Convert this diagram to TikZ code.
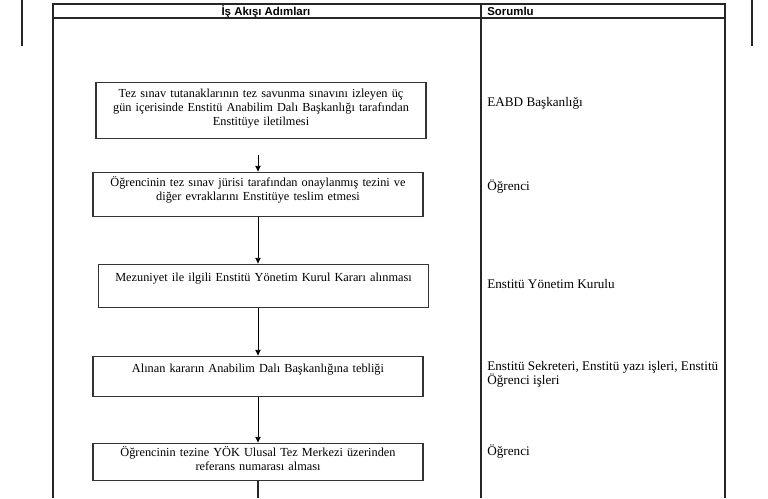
\documentclass[tikz,border=0pt]{standalone}
\usepackage{fontspec}
\setmainfont{Liberation Serif}
\newfontfamily\basyazi{Liberation Sans}
\usetikzlibrary{arrows.meta, positioning, calc}

\begin{document}
\begin{tikzpicture}[
  x=0.02cm, y=-0.02cm,
  font=\fontsize{7}{7.9}\selectfont,
  cizgi/.style={draw=black!85, line width=0.6pt},
  kutu/.style={draw=black!80, line width=0.7pt, anchor=north, inner sep=0pt, text width=6.6cm, align=center},
  ok/.style={draw=black, line width=0.5pt, -{Latex[length=3.5pt,width=3.4pt]}},
  sorumlu/.style={anchor=west, inner sep=0pt, align=left, font=\fontsize{7.5}{8.1}\selectfont},
  baslik/.style={font=\basyazi\bfseries\fontsize{6.5}{7.5}\selectfont, inner sep=0pt}
]
\useasboundingbox (0,0) rectangle (768,498);

% Kenar cizgileri
\draw[cizgi] (22,0) -- (22,46);
\draw[cizgi] (752,0) -- (752,46);

% Tablo
\draw[cizgi] (53,498) -- (53,4) -- (725,4) -- (725,498);
\draw[cizgi] (53,18) -- (725,18);
\draw[cizgi] (481,4) -- (481,498);

\node[baslik] (adimlar) at (266,11.5) {İş Akışı Adımları};
\node[baslik, anchor=west] (sorumlu) at (487,11.5) {Sorumlu};

% Adimlar
\node[kutu, text height=8.6pt, text depth=23.3pt] (k1) at (261,82)
  {Tez sınav tutanaklarının tez savunma sınavını izleyen üç\\gün içerisinde Enstitü Anabilim Dalı Başkanlığı tarafından\\Enstitüye iletilmesi};
\node[kutu, text height=8pt, text depth=17pt] (k2) at (258,172)
  {Öğrencinin tez sınav jürisi tarafından onaylanmış tezini ve\\diğer evraklarını Enstitüye teslim etmesi};
\node[kutu, text height=9.5pt, text depth=14.9pt] (k3) at (263.5,264)
  {Mezuniyet ile ilgili Enstitü Yönetim Kurul Kararı alınması};
\node[kutu, text height=9pt, text depth=13.8pt] (k4) at (258,356)
  {Alınan kararın Anabilim Dalı Başkanlığına tebliği};
\node[kutu, text height=7.3pt, text depth=13.8pt] (k5) at (258,443)
  {Öğrencinin tezine YÖK Ulusal Tez Merkezi üzerinden\\referans numarası alması};

% Sorumlular
\node[sorumlu] (s1) at (487,103) {EABD Başkanlığı};
\node[sorumlu] (s2) at (487,187) {Öğrenci};
\node[sorumlu] (s3) at (487,284) {Enstitü Yönetim Kurulu};
\node[sorumlu] (s4) at (487,374) {Enstitü Sekreteri, Enstitü yazı işleri, Enstitü\\Öğrenci işleri};
\node[sorumlu] (s5) at (487,452) {Öğrenci};

% Oklar
\coordinate (o1) at (258,155);
\draw[ok] (o1) -- (k2.north);
\draw[ok] (k2.south) -- (k2.south |- k3.north);
\draw[ok] (k2.south |- k3.south) -- (k2.south |- k4.north);
\draw[ok] (k4.south) -- (k5.north);
\coordinate (son) at (258,498);
\draw[cizgi] (k5.south) -- (son);

\end{tikzpicture}
\end{document}
